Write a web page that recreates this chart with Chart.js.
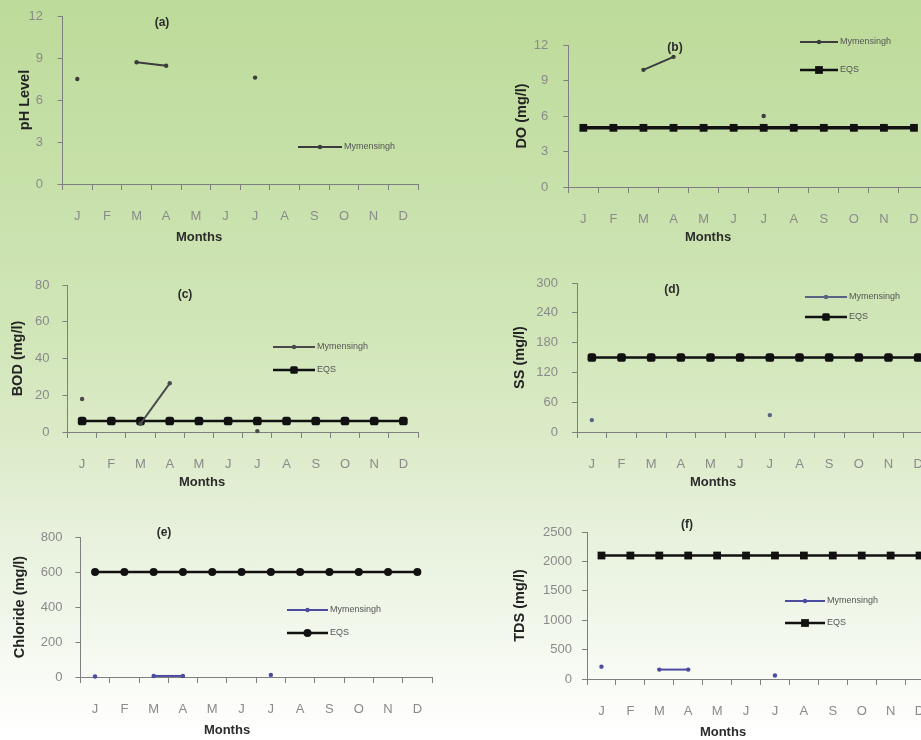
<!DOCTYPE html>
<html>
<head>
<meta charset="utf-8">
<script src="https://cdn.jsdelivr.net/npm/chart.js@4/dist/chart.umd.min.js"></script>
<style>
  html, body { margin: 0; padding: 0; width: 921px; height: 740px; overflow: hidden; }
  body {
    position: relative;
    background: linear-gradient(to bottom, #bddb9a 0%, #c6e0a8 22%, #d1e6b8 45%, #dcebc9 60%, #e7f1dc 72%, #f1f7ea 84%, #fafcf7 93%, #ffffff 100%);
  }
  .panel { position: absolute; }
  .panel canvas { display: block; }
</style>
</head>
<body>
<script>
// Month categories shared by every panel
const months = ['J', 'F', 'M', 'A', 'M', 'J', 'J', 'A', 'S', 'O', 'N', 'D'];

// Mymensingh monthly measurements (null = not sampled)
const phMymensingh  = [7.5, null, 8.7, 8.45, null, null, 7.6, null, null, null, null, null];
const doMymensingh  = [null, null, 9.9, 11.0, null, null, 6.0, null, null, null, null, null];
const bodMymensingh = [18, null, 4.5, 26.5, null, null, 0.5, null, null, null, null, null];
const ssMymensingh  = [24, null, null, null, null, null, 34, null, null, null, null, null];
const clMymensingh  = [3, null, 6, 6, null, null, 12, null, null, null, null, null];
const tdsMymensingh = [210, null, 160, 160, null, null, 60, null, null, null, null, null];

// Environmental quality standard (EQS) limits
const doEQS  = [5, 5, 5, 5, 5, 5, 5, 5, 5, 5, 5, 5];
const bodEQS = [6, 6, 6, 6, 6, 6, 6, 6, 6, 6, 6, 6];
const ssEQS  = [150, 150, 150, 150, 150, 150, 150, 150, 150, 150, 150, 150];
const clEQS  = [600, 600, 600, 600, 600, 600, 600, 600, 600, 600, 600, 600];
const tdsEQS = [2100, 2100, 2100, 2100, 2100, 2100, 2100, 2100, 2100, 2100, 2100, 2100];

// Y axis ranges: [max, step]
const phRange  = [12, 3];
const doRange  = [12, 3];
const bodRange = [80, 20];
const ssRange  = [300, 60];
const clRange  = [800, 200];
const tdsRange = [2500, 500];

const FONT = '"Liberation Sans", Arial, Helvetica, sans-serif';
const AXIS_COLOR = '#7f7f7f';
const TICK_COLOR = '#8a8a8a';

function mymSeries(data, color) {
  return { label: 'Mymensingh', data, borderColor: color, backgroundColor: color,
    borderWidth: 2, pointStyle: 'circle', pointRadius: 2.2, pointBorderWidth: 0,
    pointBackgroundColor: color, spanGaps: false, clip: false, tension: 0 };
}
function eqsSeries(data, style, radius, width) {
  return { label: 'EQS', data, borderColor: '#111', backgroundColor: '#111',
    borderWidth: width, pointStyle: style, pointRadius: radius, pointBorderWidth: 0,
    pointBackgroundColor: '#111', clip: false, tension: 0 };
}

// Panel layout (page coordinates)
const panels = [
  { tag: '(a)', yTitle: 'pH Level', range: phRange,
    datasets: [mymSeries(phMymensingh, '#3c3c3c')],
    box: { x: 0, y: 0, w: 460, h: 250 }, area: { l: 62.5, t: 16, r: 418, b: 184 },
    yTitleX: 25, yPad: 14.5, tagAt: [162, 23], xTitleAt: [199, 237],
    legend: { x: 298, y: 147, gap: 0, len: 44 } },
  { tag: '(b)', yTitle: 'DO (mg/l)', range: doRange,
    datasets: [mymSeries(doMymensingh, '#3c3c3c'), eqsSeries(doEQS, 'rect', 5.5, 3.5)],
    box: { x: 465, y: 0, w: 480, h: 250 }, area: { l: 568.3, t: 45, r: 929, b: 187 },
    yTitleX: 522, yPad: 15, tagAt: [675, 48], xTitleAt: [708, 237],
    legend: { x: 800, y: 42, gap: 28, len: 38 } },
  { tag: '(c)', yTitle: 'BOD (mg/l)', range: bodRange,
    datasets: [mymSeries(bodMymensingh, '#4a4a4a'), eqsSeries(bodEQS, 'rectRounded', 5, 2.5)],
    box: { x: 0, y: 250, w: 460, h: 250 }, area: { l: 67.5, t: 285, r: 418, b: 432 },
    yTitleX: 18, yPad: 13, tagAt: [185, 295], xTitleAt: [202, 482],
    legend: { x: 273, y: 347, gap: 23, len: 42 } },
  { tag: '(d)', yTitle: 'SS (mg/l)', range: ssRange,
    datasets: [mymSeries(ssMymensingh, '#5a6283'), eqsSeries(ssEQS, 'rectRounded', 5, 2.5)],
    box: { x: 465, y: 250, w: 480, h: 250 }, area: { l: 577, t: 283, r: 933, b: 432 },
    yTitleX: 520, yPad: 14, tagAt: [672, 290], xTitleAt: [713, 482],
    legend: { x: 805, y: 297, gap: 20, len: 42 } },
  { tag: '(e)', yTitle: 'Chloride (mg/l)', range: clRange,
    datasets: [mymSeries(clMymensingh, '#4b4ba0'), eqsSeries(clEQS, 'circle', 4, 2.5)],
    box: { x: 0, y: 490, w: 460, h: 250 }, area: { l: 80.4, t: 537, r: 432, b: 677 },
    yTitleX: 20, yPad: 13, tagAt: [164, 533], xTitleAt: [227, 730],
    legend: { x: 287, y: 610, gap: 23, len: 41 } },
  { tag: '(f)', yTitle: 'TDS (mg/l)', range: tdsRange,
    datasets: [mymSeries(tdsMymensingh, '#4b4ba0'), eqsSeries(tdsEQS, 'rect', 5.5, 2.5)],
    box: { x: 465, y: 490, w: 480, h: 250 }, area: { l: 587, t: 532, r: 934, b: 679 },
    yTitleX: 520, yPad: 10, tagAt: [687, 525], xTitleAt: [723, 732],
    legend: { x: 785, y: 601, gap: 22, len: 40 } }
];

function drawMarker(ctx, style, r, x, y) {
  ctx.beginPath();
  if (style === 'rect') {
    const s = r * Math.SQRT1_2;
    ctx.rect(x - s, y - s, 2 * s, 2 * s);
  } else if (style === 'rectRounded') {
    const s = r * 0.75;
    ctx.roundRect(x - s, y - s, 2 * s, 2 * s, s * 0.4);
  } else {
    ctx.arc(x, y, r, 0, Math.PI * 2);
  }
  ctx.fill();
}

// Panel tag, x-axis title and line-sample legend
const panelText = {
  id: 'panelText',
  afterDraw(chart, args, opts) {
    const ctx = chart.ctx;
    const ox = opts.box.x, oy = opts.box.y;
    ctx.save();
    ctx.textAlign = 'center';
    ctx.textBaseline = 'middle';
    ctx.fillStyle = '#2b2b2b';
    ctx.font = 'bold 12px ' + FONT;
    ctx.fillText(opts.tag, opts.tagAt[0] - ox, opts.tagAt[1] - oy);
    ctx.font = 'bold 13px ' + FONT;
    ctx.fillText('Months', opts.xTitleAt[0] - ox, opts.xTitleAt[1] - oy);

    const lg = opts.legend;
    chart.data.datasets.forEach((ds, i) => {
      const y = lg.y - oy + i * lg.gap;
      const x0 = lg.x - ox, x1 = x0 + lg.len;
      ctx.strokeStyle = ds.borderColor;
      ctx.lineWidth = Math.min(ds.borderWidth, 2.5);
      ctx.beginPath();
      ctx.moveTo(x0, y);
      ctx.lineTo(x1, y);
      ctx.stroke();
      ctx.fillStyle = ds.pointBackgroundColor;
      drawMarker(ctx, ds.pointStyle, ds.pointRadius, (x0 + x1) / 2, y);
      ctx.fillStyle = '#555';
      ctx.textAlign = 'left';
      ctx.font = '9px ' + FONT;
      ctx.fillText(ds.label, x1 + 2, y);
    });
    ctx.restore();
  }
};

// Drop the extra room Chart.js reserves for edge tick labels, so the plot area sits exactly in place
function noEdgePadding(s) {
  s.paddingTop = 0; s.paddingBottom = 0; s.paddingLeft = 0; s.paddingRight = 0;
}

panels.forEach(p => {
  const wrap = document.createElement('div');
  wrap.className = 'panel';
  wrap.style.left = p.box.x + 'px';
  wrap.style.top = p.box.y + 'px';
  wrap.style.width = p.box.w + 'px';
  wrap.style.height = p.box.h + 'px';
  const cv = document.createElement('canvas');
  cv.width = p.box.w;
  cv.height = p.box.h;
  wrap.appendChild(cv);
  document.body.appendChild(wrap);

  const yTitleSize = 14.5;
  const yTitlePad = p.yTitleX - p.box.x - yTitleSize * 1.2 / 2;

  new Chart(cv, {
    type: 'line',
    data: { labels: months, datasets: p.datasets },
    options: {
      responsive: false,
      animation: false,
      events: [],
      layout: { padding: { left: 0, top: p.area.t - p.box.y, right: p.box.x + p.box.w - p.area.r, bottom: 0 } },
      plugins: {
        legend: { display: false },
        tooltip: { enabled: false },
        panelText: { box: p.box, tag: p.tag, tagAt: p.tagAt, xTitleAt: p.xTitleAt, legend: p.legend }
      },
      scales: {
        x: {
          type: 'category',
          offset: true,
          grid: { display: true, drawOnChartArea: false, drawTicks: true, tickLength: 6, offset: true, color: AXIS_COLOR, lineWidth: 1 },
          border: { display: true, color: AXIS_COLOR, width: 1 },
          ticks: { color: TICK_COLOR, font: { family: FONT, size: 13 }, padding: 19, autoSkip: false, maxRotation: 0 },
          afterFit(s) { s.height = p.box.y + p.box.h - p.area.b; noEdgePadding(s); }
        },
        y: {
          min: 0, max: p.range[0],
          grid: { display: true, drawOnChartArea: false, drawTicks: true, tickLength: 5, color: AXIS_COLOR, lineWidth: 1 },
          border: { display: true, color: AXIS_COLOR, width: 1 },
          ticks: { stepSize: p.range[1], color: TICK_COLOR, font: { family: FONT, size: 13 }, padding: p.yPad,
                   callback: v => String(v) },
          title: { display: true, text: p.yTitle, color: '#232323', font: { family: FONT, size: yTitleSize, weight: 'bold' }, padding: { top: yTitlePad, bottom: 0 } },
          afterFit(s) { s.width = p.area.l - p.box.x; noEdgePadding(s); }
        }
      }
    },
    plugins: [panelText]
  });
});
</script>
</body>
</html>
